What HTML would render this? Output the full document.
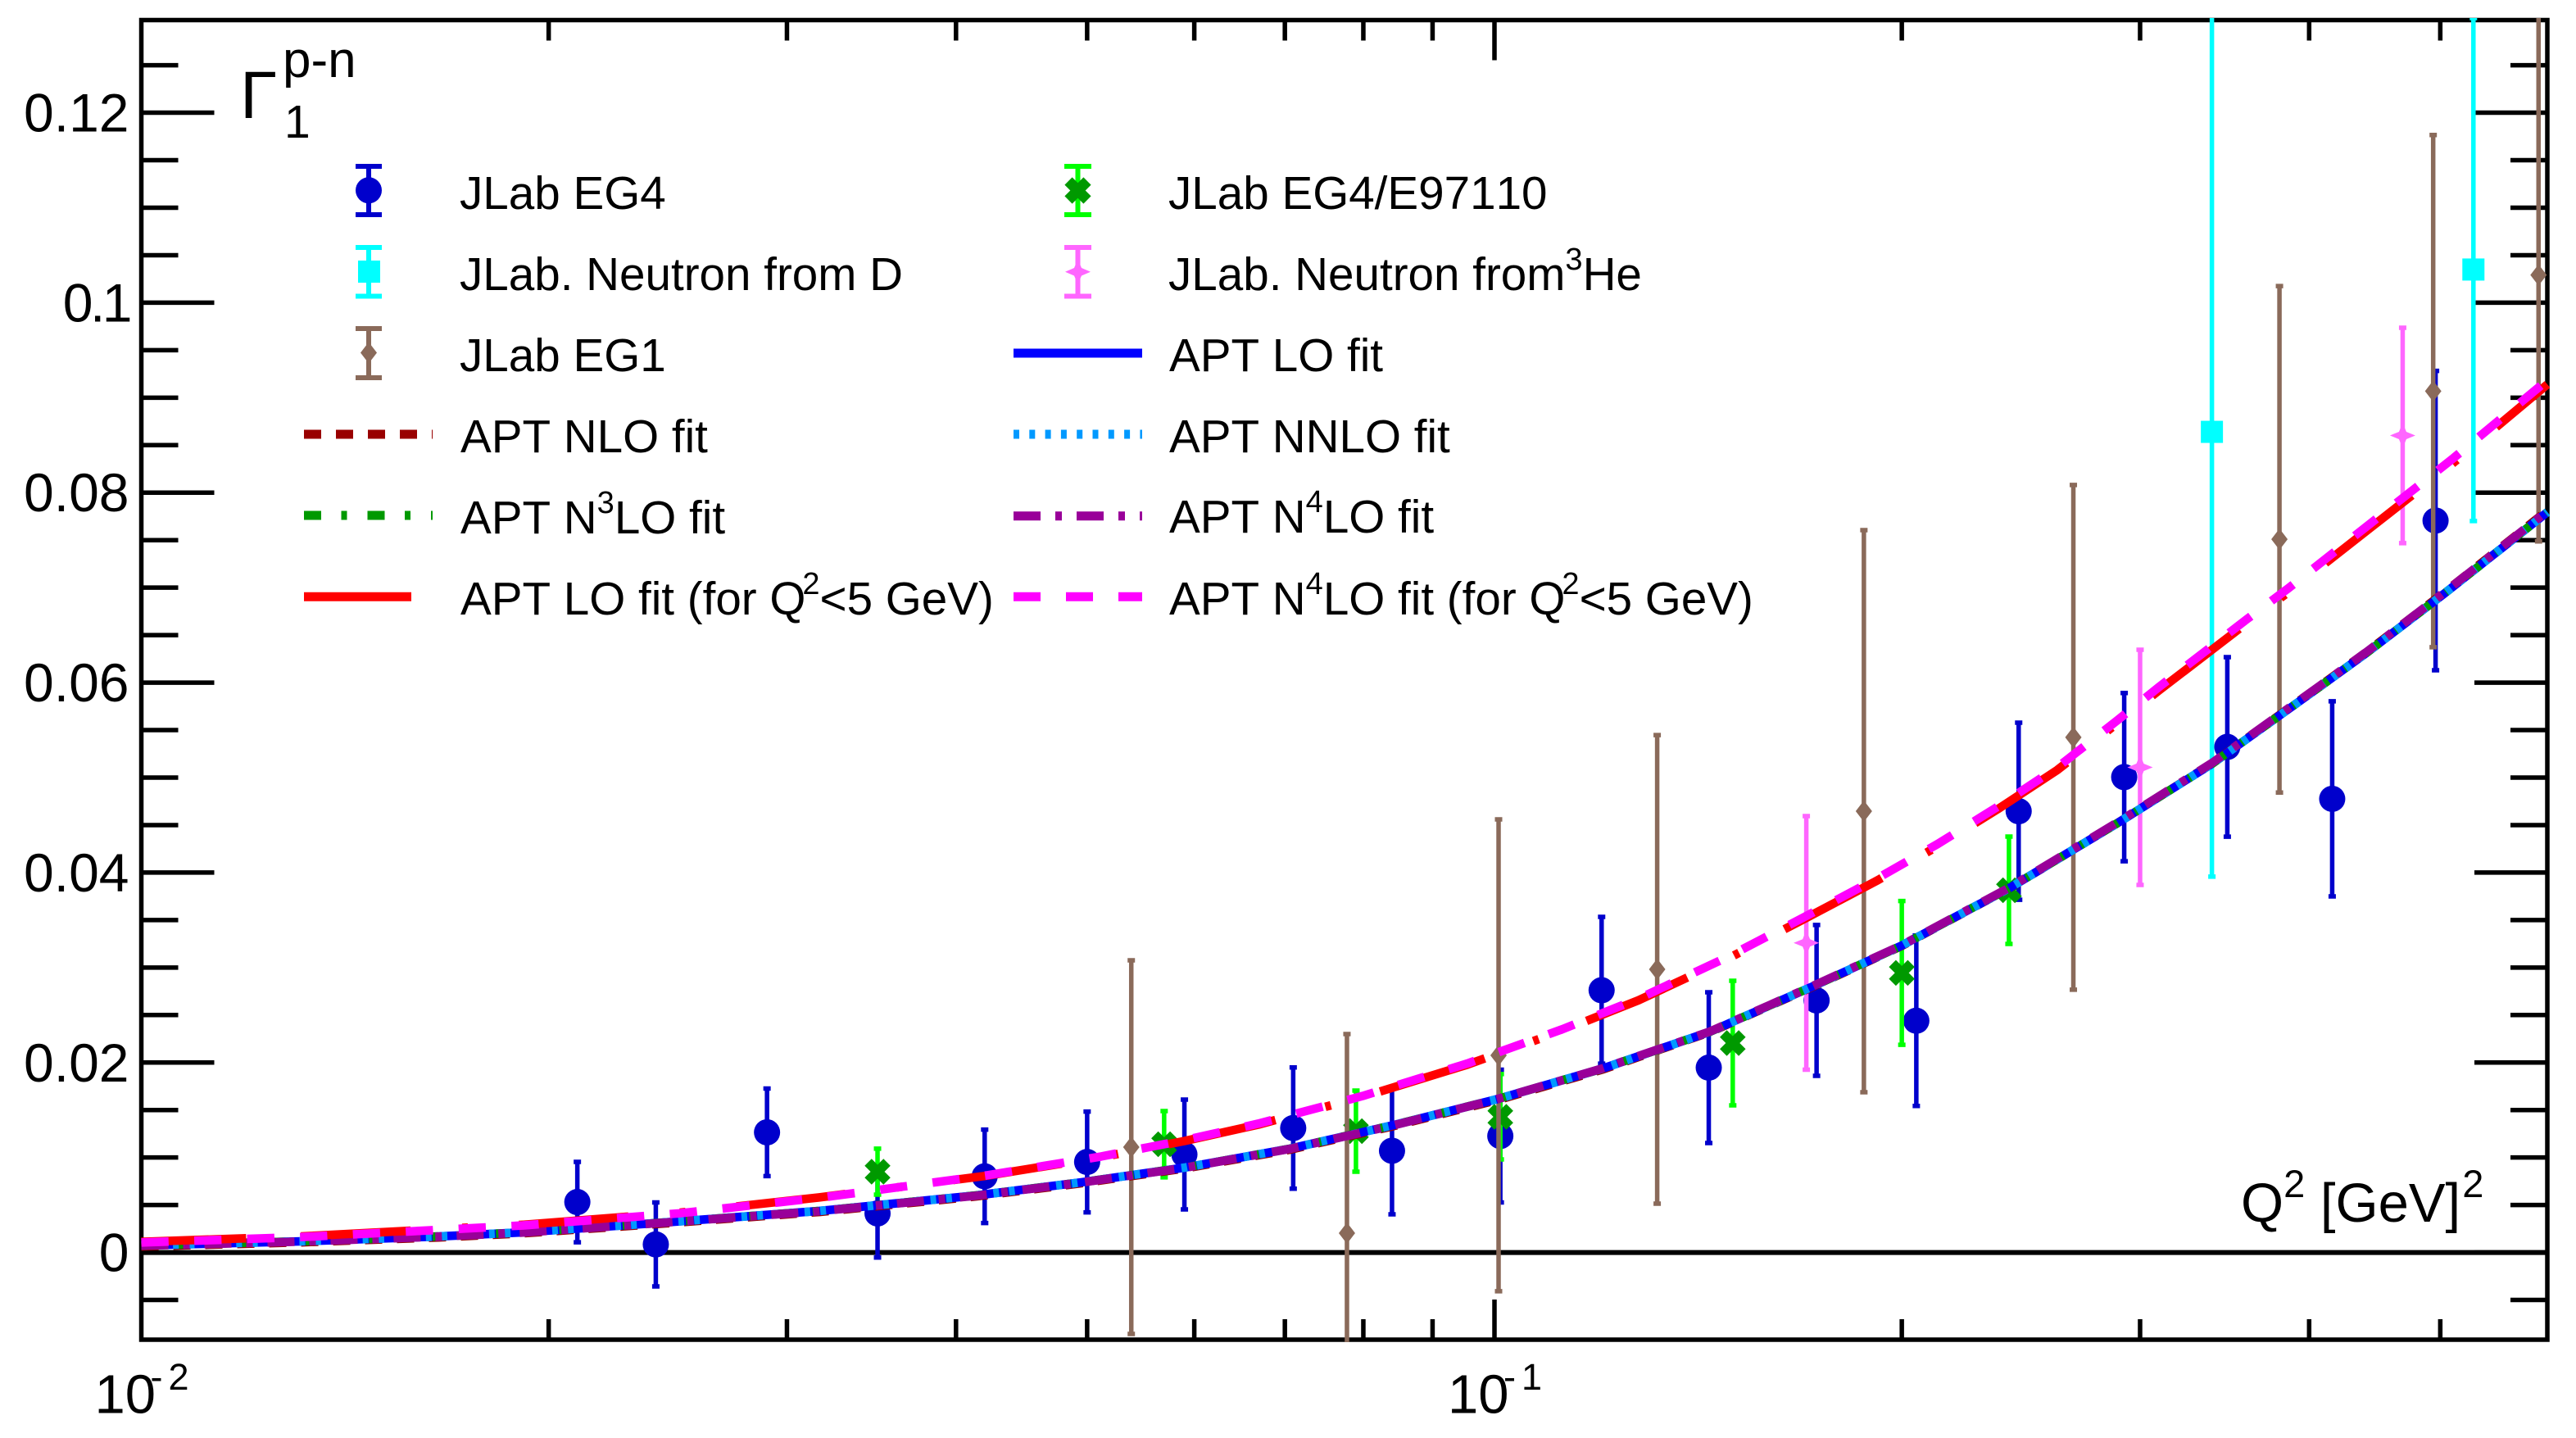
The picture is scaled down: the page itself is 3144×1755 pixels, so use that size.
<!DOCTYPE html>
<html lang="en">
<head>
<meta charset="utf-8">
<title>Gamma1 p-n versus Q2</title>
<style>
html,body{margin:0;padding:0;background:#fff;}
svg{display:block;}
text{font-family:"Liberation Sans",Arial,sans-serif;fill:#000;font-kerning:none;}
.leg{font-size:56.6px;}
</style>
</head>
<body>
<svg id="chart" xmlns="http://www.w3.org/2000/svg" width="3144" height="1755" viewBox="0 0 3144 1755">
  <defs>
    <clipPath id="plot-clip"><rect x="169.5" y="22" width="2942.5" height="1616"/></clipPath>
  </defs>
  <rect x="0" y="0" width="3144" height="1755" fill="#fff"/>
  <g id="ticks"></g>
  <rect x="172.5" y="24.5" width="2936.5" height="1610.5" fill="none" stroke="#000" stroke-width="5.5"/>
  <g id="tick-labels"></g>
  <g id="plot" clip-path="url(#plot-clip)"></g>

  <text x="293" y="144" font-size="82">Γ</text>
  <text x="345" y="94" font-size="62">p-n</text>
  <text x="347" y="168" font-size="57">1</text>

  <text x="2735" y="1491" font-size="67">Q<tspan font-size="47" dy="-30">2</tspan><tspan dy="30"> [GeV]</tspan><tspan font-size="47" dy="-30" dx="2">2</tspan></text>

  <g>
    <g>
      <path d="M450 203V262M434 203H466M434 262H466" stroke="#0000cc" stroke-width="6" fill="none"/>
      <circle cx="450" cy="232.3" r="16" fill="#0000cc"/>
      <text class="leg" x="561" y="255">JLab EG4</text>
    </g>
    <g>
      <path d="M450 302V361.5M434 302H466M434 361.5H466" stroke="#00ffff" stroke-width="6" fill="none"/>
      <rect x="437" y="318" width="27" height="27" fill="#00ffff"/>
      <text class="leg" x="561" y="354">JLab. Neutron from D</text>
    </g>
    <g>
      <path d="M450 401V461M434 401H466M434 461H466" stroke="#8a6a5a" stroke-width="6" fill="none"/>
      <path d="M450 417.5L460 430.5L450 443.5L440 430.5Z" fill="#8a6a5a"/>
      <text class="leg" x="561" y="453">JLab EG1</text>
    </g>
    <g>
      <line x1="371" x2="528" y1="530" y2="530" stroke="#990000" stroke-width="11" stroke-dasharray="21 18"/>
      <text class="leg" x="562" y="552">APT NLO fit</text>
    </g>
    <g>
      <line x1="371" x2="528" y1="629" y2="629" stroke="#009900" stroke-width="11" stroke-dasharray="21 24.5 7 25"/>
      <text class="leg" x="562" y="651">APT N<tspan font-size="38" dy="-25">3</tspan><tspan dy="25">LO fit</tspan></text>
    </g>
    <g>
      <line x1="371" x2="502" y1="728.3" y2="728.3" stroke="#ff0000" stroke-width="11"/>
      <text class="leg" x="562" y="750">APT LO fit (for Q<tspan font-size="38" dy="-25" dx="-4">2</tspan><tspan dy="25">&lt;5 GeV)</tspan></text>
    </g>
    <g>
      <path d="M1315.5 203V262M1299 203H1332M1299 262H1332" stroke="#00ff00" stroke-width="6" fill="none"/>
      <path d="M1304 221L1327 244M1327 221L1304 244" stroke="#009900" stroke-width="13" fill="none"/>
      <text class="leg" x="1426" y="255">JLab EG4/E97110</text>
    </g>
    <g>
      <path d="M1315.5 302V361.5M1299 302H1332M1299 361.5H1332" stroke="#ff66ff" stroke-width="6" fill="none"/>
      <path d="M1315.5 316L1320 327L1331 331.7L1320 336.5L1315.5 347L1311 336.5L1300 331.7L1311 327Z" fill="#ff66ff"/>
      <text class="leg" x="1426" y="354">JLab. Neutron from<tspan font-size="38" dy="-25">3</tspan><tspan dy="25">He</tspan></text>
    </g>
    <g>
      <line x1="1237" x2="1394" y1="431" y2="431" stroke="#0000ff" stroke-width="11"/>
      <text class="leg" x="1427" y="453">APT LO fit</text>
    </g>
    <g>
      <line x1="1237" x2="1394" y1="530" y2="530" stroke="#0099ff" stroke-width="11" stroke-dasharray="7 12.3"/>
      <text class="leg" x="1427" y="552">APT NNLO fit</text>
    </g>
    <g>
      <line x1="1237" x2="1394" y1="629.7" y2="629.7" stroke="#990099" stroke-width="11" stroke-dasharray="33 18 8 18"/>
      <text class="leg" x="1427" y="650">APT N<tspan font-size="38" dy="-25">4</tspan><tspan dy="25">LO fit</tspan></text>
    </g>
    <g>
      <line x1="1237" x2="1394" y1="728.3" y2="728.3" stroke="#ff00ff" stroke-width="11" stroke-dasharray="33 31"/>
      <text class="leg" x="1427" y="750">APT N<tspan font-size="38" dy="-25">4</tspan><tspan dy="25">LO fit (for Q</tspan><tspan font-size="38" dy="-25" dx="-4">2</tspan><tspan dy="25">&lt;5 GeV)</tspan></text>
    </g>
  </g>
</svg>
<script>
/* ---------- tick arrays ---------- */
const yMajorTicks = [0, 0.02, 0.04, 0.06, 0.08, 0.1, 0.12];
const yMajorLabels = ['0', '0.02', '0.04', '0.06', '0.08', '0.1', '0.12'];
const yMinorTicks = [-0.005, 0.005, 0.01, 0.015, 0.025, 0.03, 0.035, 0.045, 0.05, 0.055, 0.065, 0.07, 0.075, 0.085, 0.09, 0.095, 0.105, 0.11, 0.115, 0.125];
const xMajorTicks = [0.01, 0.1];
const xMajorExponents = ['2', '1'];
const xMinorTicks = [0.02, 0.03, 0.04, 0.05, 0.06, 0.07, 0.08, 0.09, 0.2, 0.3, 0.4, 0.5];

/* ---------- data points: Q2, value, error ---------- */
const eg4Q = [0.021, 0.024, 0.029, 0.035, 0.042, 0.05, 0.059, 0.071, 0.084, 0.101, 0.12, 0.144, 0.173, 0.205, 0.244, 0.292, 0.348, 0.416, 0.496];
const eg4Val = [0.00531, 0.00085, 0.01265, 0.00411, 0.00802, 0.00953, 0.01032, 0.0131, 0.01071, 0.01226, 0.02761, 0.01946, 0.02654, 0.0244, 0.04646, 0.05005, 0.05323, 0.04776, 0.07706];
const eg4Err = [0.00423, 0.00442, 0.00461, 0.00464, 0.00492, 0.00531, 0.00578, 0.00638, 0.00669, 0.00699, 0.00773, 0.00794, 0.00794, 0.00897, 0.00932, 0.00886, 0.00945, 0.01027, 0.01576];

const e97Q = [0.035, 0.057, 0.079, 0.101, 0.15, 0.2, 0.24];
const e97Val = [0.00851, 0.0114, 0.01278, 0.01429, 0.02205, 0.02944, 0.03814];
const e97Err = [0.00242, 0.00349, 0.00427, 0.00449, 0.00656, 0.00757, 0.00565];

const deutQ = [0.339, 0.529];
const deutVal = [0.0864, 0.10349];
const deutErr = [0.04683, 0.02648];

const eg1Q = [0.0539, 0.0778, 0.1007, 0.1319, 0.1875, 0.2678, 0.3803, 0.494, 0.591];
const eg1Val = [0.01109, 0.00204, 0.02076, 0.02981, 0.04646, 0.05424, 0.07509, 0.09069, 0.10291];
const eg1Err = [0.01967, 0.02096, 0.02484, 0.02467, 0.02959, 0.02657, 0.02666, 0.02696, 0.02804];

const he3Q = [0.17, 0.3, 0.469];
const he3Val = [0.0326, 0.05108, 0.08602];
const he3Err = [0.01335, 0.01238, 0.01134];

/* ---------- fit curves ---------- */
const fitQ = [0.01, 0.01312, 0.01659, 0.01914, 0.02388, 0.0317, 0.04139, 0.04945, 0.05903, 0.07055, 0.08429, 0.1007, 0.1203, 0.1444, 0.1734, 0.2, 0.2401, 0.2884, 0.3392, 0.4075, 0.4409, 0.503, 0.6];
const fitLO = [0.00074, 0.00117, 0.00169, 0.00212, 0.00307, 0.00437, 0.006, 0.00738, 0.00894, 0.01092, 0.01342, 0.01618, 0.01938, 0.02326, 0.02826, 0.03232, 0.03835, 0.04517, 0.05147, 0.05958, 0.06311, 0.06933, 0.07795];
const fitNLO = [0.00064, 0.00107, 0.00159, 0.00202, 0.00297, 0.00427, 0.0059, 0.00728, 0.00884, 0.01082, 0.01332, 0.01608, 0.01928, 0.02321, 0.02821, 0.03228, 0.03834, 0.04518, 0.0515, 0.05966, 0.06321, 0.06945, 0.07812];
const fitNNLO = [0.00074, 0.00117, 0.00169, 0.00212, 0.00307, 0.00437, 0.006, 0.00738, 0.00894, 0.01092, 0.01342, 0.01618, 0.01938, 0.02326, 0.02826, 0.03232, 0.03835, 0.04517, 0.05147, 0.05958, 0.06311, 0.06933, 0.07795];
const fitN3LO = [0.00074, 0.00117, 0.00169, 0.00212, 0.00307, 0.00437, 0.006, 0.00738, 0.00894, 0.01092, 0.01342, 0.01618, 0.01938, 0.02326, 0.02826, 0.03232, 0.03835, 0.04517, 0.05147, 0.05958, 0.06311, 0.06933, 0.07795];
const fitN4LO = [0.00072, 0.00115, 0.00167, 0.0021, 0.00305, 0.00435, 0.00598, 0.00736, 0.00892, 0.0109, 0.0134, 0.01618, 0.0194, 0.02328, 0.0283, 0.03236, 0.03841, 0.04525, 0.05155, 0.05968, 0.06321, 0.06945, 0.07805];

const cutFitQ = [0.01, 0.01312, 0.01913, 0.02498, 0.0317, 0.03655, 0.04213, 0.05122, 0.05903, 0.06692, 0.0799, 0.0955, 0.1121, 0.1278, 0.1488, 0.1698, 0.192, 0.2126, 0.2354, 0.2606, 0.2885, 0.3097, 0.3596, 0.3861, 0.4431, 0.5117, 0.6];
const cutFitN4LO = [0.00105, 0.00162, 0.00285, 0.00412, 0.00575, 0.00694, 0.00812, 0.01011, 0.01183, 0.01357, 0.01648, 0.0199, 0.02347, 0.02672, 0.03113, 0.03539, 0.03942, 0.04301, 0.04692, 0.05108, 0.056, 0.05952, 0.06665, 0.06993, 0.07666, 0.08367, 0.09184];
const cutFitLO = [0.00112, 0.00169, 0.00292, 0.00419, 0.0058, 0.00694, 0.00808, 0.01003, 0.01174, 0.01347, 0.01638, 0.01978, 0.02333, 0.02656, 0.03095, 0.03519, 0.0392, 0.04277, 0.04666, 0.0508, 0.0557, 0.05916, 0.06625, 0.06951, 0.0762, 0.08318, 0.0914];

/* ---------- axis functions ---------- */
const xLeft = 172.5, xDecade = 1651.5, yZero = 1528.6, yScale = 11592;
function xOf(q) { return xLeft + xDecade * Math.log10(q / 0.01); }
function yOf(v) { return yZero - yScale * v; }

const NS = 'http://www.w3.org/2000/svg';
function el(tag, attrs, parent) {
  const node = document.createElementNS(NS, tag);
  for (const k in attrs) node.setAttribute(k, attrs[k]);
  parent.appendChild(node);
  return node;
}
const tickG = document.getElementById('ticks');
const labelG = document.getElementById('tick-labels');
const plot = document.getElementById('plot');

/* ---------- ticks ---------- */
function yTick(v, len, name) {
  const y = yOf(v);
  const a = el('path', {d: 'M172.5 ' + y + 'H' + (172.5 + len) + 'M3109 ' + y + 'H' + (3109 - len), stroke: '#000', 'stroke-width': 5.5, fill: 'none'}, tickG);
  
  
}
function xTick(q, len, name) {
  const x = xOf(q);
  const a = el('path', {d: 'M' + x + ' 24.5V' + (24.5 + len) + 'M' + x + ' 1635V' + (1635 - len), stroke: '#000', 'stroke-width': 5.5, fill: 'none'}, tickG);
  
  
}
yMinorTicks.forEach(v => yTick(v, 45, 'y-minor-tick'));
yMajorTicks.forEach(v => yTick(v, 89, 'y-major-tick'));
xMinorTicks.forEach(q => xTick(q, 25, 'x-minor-tick'));
xMajorTicks.filter(q => q > 0.01).forEach(q => xTick(q, 49, 'x-major-tick'));

yMajorTicks.forEach((v, i) => {
  const t = el('text', {x: 157.5, y: yOf(v) + 23, 'font-size': 66, 'text-anchor': 'end'}, labelG);
  t.textContent = yMajorLabels[i];
  if (yMajorLabels[i] === '0.1') {
    t.setAttribute('x', 158);
    t.setAttribute('letter-spacing', -3.5);
  }
  
  
});
xMajorTicks.forEach((q, i) => {
  const x = xOf(q);
  const t = el('text', {x: x - 57, y: 1724.5, 'font-size': 67}, labelG);
  t.textContent = '10';
  
  
  const e = el('text', {x: x + 11, y: 1696, 'font-size': 45}, labelG);
  e.textContent = '-';
  
  
  const d = el('text', {x: x + 33, y: 1696, 'font-size': 45}, labelG);
  d.textContent = xMajorExponents[i];
  
  
});

/* ---------- zero line ---------- */
const zeroLine = el('line', {x1: 172.5, x2: 3109, y1: yOf(0), y2: yOf(0), stroke: '#000', 'stroke-width': 6}, plot);



/* ---------- markers ---------- */
function drawMarker(kind, cx, cy, color, group) {
  let m;
  if (kind === 'circle') {
    m = el('circle', {cx: cx, cy: cy, r: 16, fill: color}, group);
  } else if (kind === 'square') {
    m = el('rect', {x: cx - 13.5, y: cy - 13.5, width: 27, height: 27, fill: color}, group);
  } else if (kind === 'diamond') {
    m = el('path', {d: 'M' + cx + ' ' + (cy - 13) + 'l10 13l-10 13l-10 -13z', fill: color}, group);
  } else if (kind === 'star') {
    m = el('path', {d: 'M' + cx + ' ' + (cy - 15.5) + 'l4.5 11l11 4.5l-11 4.5l-4.5 11l-4.5 -11l-11 -4.5l11 -4.5z', fill: color}, group);
  } else {
    m = el('path', {d: 'M' + (cx - 11.5) + ' ' + (cy - 11.5) + 'L' + (cx + 11.5) + ' ' + (cy + 11.5) + 'M' + (cx + 11.5) + ' ' + (cy - 11.5) + 'L' + (cx - 11.5) + ' ' + (cy + 11.5), stroke: color, 'stroke-width': 12, fill: 'none'}, group);
  }
  
  
}
function drawPoints(qs, vals, errs, barColor, markColor, kind, name) {
  const g = el('g', {}, plot);
  
  
  qs.forEach((q, i) => {
    const x = xOf(q), y = yOf(vals[i]);
    const yTop = yOf(vals[i] + errs[i]), yBot = yOf(vals[i] - errs[i]);
    const bar = el('path', {d: 'M' + x + ' ' + yTop + 'V' + yBot + 'M' + (x - 4.5) + ' ' + yTop + 'H' + (x + 4.5) + 'M' + (x - 4.5) + ' ' + yBot + 'H' + (x + 4.5), stroke: barColor, 'stroke-width': 5.5, fill: 'none'}, g);
    
    
    drawMarker(kind, x, y, markColor, g);
  });
}
drawPoints(eg4Q, eg4Val, eg4Err, '#0000cc', '#0000cc', 'circle', 'series-jlab-eg4');
drawPoints(e97Q, e97Val, e97Err, '#00ff00', '#009900', 'cross', 'series-jlab-eg4-e97110');
drawPoints(deutQ, deutVal, deutErr, '#00ffff', '#00ffff', 'square', 'series-neutron-from-d');
drawPoints(eg1Q, eg1Val, eg1Err, '#8a6a5a', '#8a6a5a', 'diamond', 'series-jlab-eg1');
drawPoints(he3Q, he3Val, he3Err, '#ff66ff', '#ff66ff', 'star', 'series-neutron-from-3he');

/* ---------- fit curves ---------- */
function drawFit(qs, vals, color, dash, name) {
  const d = qs.map((q, i) => (i ? 'L' : 'M') + xOf(q).toFixed(1) + ' ' + yOf(vals[i]).toFixed(1)).join('');
  const p = el('path', {d: d, fill: 'none', stroke: color, 'stroke-width': 10.5, 'stroke-linejoin': 'round'}, plot);
  if (dash) p.setAttribute('stroke-dasharray', dash);
  
  
}
const redDash = '128 67 ' + Array(13).fill('134 63 7 62.4').join(' ');
drawFit(fitQ, fitNLO, '#990000', '21 18', 'fit-apt-nlo');
drawFit(fitQ, fitLO, '#0000ff', '', 'fit-apt-lo');
drawFit(fitQ, fitN3LO, '#009900', '21 24.5 7 25', 'fit-apt-n3lo');
drawFit(fitQ, fitNNLO, '#0099ff', '7 12.3', 'fit-apt-nnlo');
drawFit(fitQ, fitN4LO, '#990099', '33 18 8 18', 'fit-apt-n4lo');
drawFit(cutFitQ, cutFitLO, '#ff0000', redDash, 'fit-apt-lo-q2-cut');
drawFit(cutFitQ, cutFitN4LO, '#ff00ff', '33.3 31.3', 'fit-apt-n4lo-q2-cut');
</script>
</body>
</html>
